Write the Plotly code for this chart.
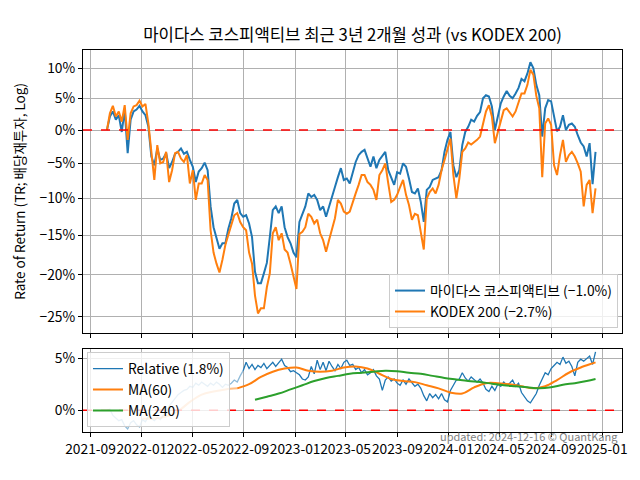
"""Midas KOSPI Active vs KODEX 200 - 3y2m performance chart."""

import pandas as pd
import plotly.graph_objects as go
from plotly.subplots import make_subplots

FONT = "Noto Sans CJK KR"
BLUE = "#1f77b4"
ORANGE = "#ff7f0e"
GREEN = "#2ca02c"
GRID = "#b0b0b0"

# weekly sampling points, 2021-10 .. 2024-12-16
dates = pd.date_range("2021-10-10", "2024-12-16", periods=166)

# cumulative return (%)
fund_ret = [
    0.0, 2.1, 2.9, 1.6, 2.3, -0.3, 3.1, -3.5, 1.6, 2.9,
    3.2, 3.8, 2.9, 2.3, 0.5, -4.0, -5.3, -2.8, -4.5, -4.3,
    -3.5, -5.7, -4.8, -3.6, -3.3, -2.8, -3.6, -3.3, -4.5, -5.5,
    -7.7, -6.2, -5.7, -4.9, -6.0, -11.1, -13.9, -15.2, -16.7, -16.0,
    -16.0, -14.1, -12.7, -10.7, -10.2, -12.0, -12.5, -12.3, -13.4, -15.2,
    -19.6, -21.0, -21.0, -19.8, -18.5, -15.2, -11.6, -11.1, -12.0, -11.1,
    -13.9, -15.2, -16.0, -17.2, -17.8, -13.2, -12.1, -11.1, -9.3, -9.8,
    -9.5, -10.2, -11.6, -11.1, -12.5, -11.1, -9.5, -8.4, -7.0, -5.7,
    -7.4, -7.2, -7.9, -6.2, -4.8, -3.8, -3.3, -3.0, -4.3, -5.5,
    -4.0, -5.7, -4.5, -3.8, -3.3, -6.0, -7.0, -8.1, -6.3, -6.5,
    -5.0, -5.5, -7.2, -9.1, -9.3, -8.6, -10.5, -13.2, -8.8, -8.4,
    -7.4, -7.2, -7.0, -6.0, -3.3, -1.5, -0.3, -5.3, -7.0, -6.0,
    -2.3, -0.3, 0.5, 1.6, 1.3, 2.2, 2.8, 5.0, 5.5, 5.3,
    3.7, 0.0, 2.3, 4.2, 5.3, 6.2, 5.4, 5.0, 5.8, 6.7,
    8.2, 7.8, 9.1, 11.0, 10.0, 7.2, 5.5, -1.0, 3.4, 4.7,
    4.5, 1.8, -0.2, 0.5, 2.3, 0.0, 0.8, 1.0, 0.5, -0.8,
    -1.9, -2.5, -4.0, -2.0, -8.0, -3.3,
]
kodex_ret = [
    0.0, 2.6, 3.8, 2.1, 2.9, 1.3, 3.9, -1.5, 2.6, 3.7,
    3.9, 4.6, 3.7, 4.1, 1.0, -3.5, -7.4, -2.3, -5.0, -4.8,
    -3.3, -7.7, -6.0, -3.5, -3.3, -4.3, -4.8, -3.8, -7.9, -6.0,
    -10.2, -7.9, -7.9, -6.7, -7.4, -14.3, -17.2, -18.6, -19.7, -18.1,
    -16.2, -14.9, -13.6, -12.3, -12.0, -13.2, -13.9, -14.3, -17.2, -18.6,
    -22.5, -24.6, -24.0, -24.0, -21.5, -19.8, -14.7, -13.9, -15.6, -14.7,
    -16.8, -17.2, -18.6, -20.2, -21.7, -14.8, -14.5, -13.9, -12.1, -12.5,
    -13.4, -12.9, -14.7, -15.6, -17.1, -15.6, -14.1, -12.7, -10.2, -10.7,
    -11.8, -12.1, -11.8, -10.7, -9.3, -8.1, -6.7, -6.7, -7.7, -8.1,
    -8.8, -10.2, -6.7, -6.0, -5.0, -7.9, -10.5, -10.2, -9.5, -8.4,
    -7.4, -9.5, -10.9, -12.9, -12.1, -12.3, -14.9, -16.8, -10.0, -9.1,
    -8.6, -9.3, -8.1, -6.0, -4.5, -2.8, -1.3, -6.7, -10.0, -7.2,
    -3.3, -2.8, -1.9, -2.2, -1.9, -1.5, -1.0, 1.0, 2.9, 3.9,
    2.1, -2.0, -0.3, 1.0, 3.1, 3.4, 2.8, 2.1, 2.9, 4.2,
    5.8, 5.8, 7.2, 9.7, 8.9, 5.4, 3.4, -7.0, 1.0, 1.8,
    0.8, -5.3, -6.7, -3.8, -1.5, -4.8, -3.8, -3.3, -4.0, -5.0,
    -6.2, -11.1, -8.1, -7.4, -12.0, -8.6,
]
# relative performance (%) in the lower panel
rel_ret = [
    0.0, 0.1, -0.5, -0.8, -1.0, -0.9, -1.5, -1.8, -1.2, -1.0,
    -1.4, -1.6, -0.9, -1.1, -0.6, -0.8, -1.0, -0.7, -0.9, -0.5,
    -0.2, 0.4, 0.8, 1.2, 1.5, 1.7, 1.9, 2.0, 2.3, 2.2,
    2.6, 2.4, 2.7, 2.5, 2.3, 2.6, 2.4, 2.7, 2.5, 2.2,
    2.5, 2.4, 2.6, 2.9, 2.7, 3.3, 3.8, 4.6, 4.0, 4.4,
    3.9, 4.3, 4.1, 4.5, 4.0, 4.3, 4.6, 4.2, 4.5, 4.9,
    4.3, 4.1, 3.7, 3.8, 3.6, 3.4, 3.0, 2.9, 3.2, 4.2,
    3.5, 4.8, 3.9, 4.6, 3.8, 4.7, 4.2, 3.8, 4.4, 4.0,
    4.6, 4.8, 4.3, 4.4, 3.9, 4.1, 3.6, 3.9, 3.4, 3.6,
    3.9, 3.3, 3.0, 1.9, 2.9, 3.2, 2.8, 3.0, 2.6, 2.4,
    2.9, 2.5, 3.0, 2.7, 2.3, 2.5, 2.1, 1.4, 0.9, 1.6,
    1.2, 1.5, 1.1, 1.6, 1.0, 0.8, 1.9, 2.4, 2.9, 3.0,
    3.6, 3.1, 2.8, 3.2, 2.9, 2.7, 3.0, 2.6, 2.0, 1.8,
    2.3, 1.9, 2.5, 2.3, 2.7, 2.4, 2.6, 2.9, 2.3, 2.6,
    1.7, 1.3, 0.9, 0.7, 1.2, 1.6, 2.4, 3.0, 3.6, 3.4,
    4.0, 4.3, 4.6, 4.4, 5.1, 4.5, 4.7, 4.2, 3.3, 4.6,
    4.9, 4.7, 5.0, 5.2, 4.4, 5.6,
]
# moving averages, read every 4 weeks
ma60_idx = list(range(12, 165, 4)) + [165]
ma60_val = [
    -0.8, -0.8, -0.6, -0.1, 0.8, 1.5, 1.8, 2.0, 2.1, 2.5,
    3.2, 3.7, 4.0, 4.1, 3.8, 3.7, 3.8, 4.1, 4.2, 4.0,
    3.5, 3.0, 2.8, 2.7, 2.4, 2.1, 1.7, 1.6, 2.2, 2.6,
    2.6, 2.5, 2.3, 2.1, 2.3, 2.9, 3.6, 4.1, 4.5, 4.6,
]
ma240_idx = list(range(50, 165, 4)) + [165]
ma240_val = [
    1.0, 1.3, 1.6, 2.0, 2.4, 2.8, 3.1, 3.3, 3.5, 3.6,
    3.7, 3.8, 3.75, 3.6, 3.5, 3.3, 3.1, 2.95, 2.8, 2.7,
    2.55, 2.4, 2.3, 2.2, 2.1, 2.2, 2.45, 2.6, 2.8, 3.0,
]

x_ticks = ["2021-09-01", "2022-01-01", "2022-05-01", "2022-09-01", "2023-01-01", "2023-05-01",
           "2023-09-01", "2024-01-01", "2024-05-01", "2024-09-01", "2025-01-01"]
x_labels = [t[:7] for t in x_ticks]
y_ticks = [10, 5, 0, -5, -10, -15, -20, -25]
y_labels = [f"{v}%".replace("-", "\u2212") for v in y_ticks]

LIGHT = 47  # lower-panel lines are faded before this point

fig = make_subplots(rows=2, cols=1, shared_xaxes=True)

fig.add_trace(go.Scatter(
    x=dates, y=[1 + v / 100 for v in fund_ret], mode="lines",
    name="마이다스 코스피액티브 (\u22121.0%)", line=dict(color=BLUE, width=2), legend="legend",
), row=1, col=1)
fig.add_trace(go.Scatter(
    x=dates, y=[1 + v / 100 for v in kodex_ret], mode="lines",
    name="KODEX 200 (\u22122.7%)", line=dict(color=ORANGE, width=2), legend="legend",
), row=1, col=1)

# lower panel
fig.add_trace(go.Scatter(
    x=dates[:LIGHT], y=rel_ret[:LIGHT], mode="lines", opacity=0.5, showlegend=False,
    line=dict(color=BLUE, width=1.3),
), row=2, col=1)
fig.add_trace(go.Scatter(
    x=dates[LIGHT - 1:], y=rel_ret[LIGHT - 1:], mode="lines", name="Relative (1.8%)",
    line=dict(color=BLUE, width=1.3), legend="legend2",
), row=2, col=1)

ma60_dates = [dates[i] for i in ma60_idx]
split = sum(1 for i in ma60_idx if i <= 44)
fig.add_trace(go.Scatter(
    x=ma60_dates[:split], y=ma60_val[:split], mode="lines", opacity=0.5, showlegend=False,
    line=dict(color=ORANGE, width=2, shape="spline"),
), row=2, col=1)
fig.add_trace(go.Scatter(
    x=ma60_dates[split - 1:], y=ma60_val[split - 1:], mode="lines", name="MA(60)",
    line=dict(color=ORANGE, width=2, shape="spline"), legend="legend2",
), row=2, col=1)
fig.add_trace(go.Scatter(
    x=[dates[i] for i in ma240_idx], y=ma240_val, mode="lines", name="MA(240)",
    line=dict(color=GREEN, width=2, shape="spline"), legend="legend2",
), row=2, col=1)

# zero reference lines
fig.add_hline(y=1, row=1, col=1, line=dict(color="red", dash="dash", width=1.3))
fig.add_hline(y=0, row=2, col=1, line=dict(color="red", dash="dash", width=1.3))

axis_style = dict(
    showline=True, linecolor="black", linewidth=1, mirror=True,
    ticks="outside", ticklen=4, tickcolor="black",
    showgrid=True, gridcolor=GRID, gridwidth=0.8, zeroline=False,
    tickfont=dict(family=FONT, size=13.8, color="black"),
)
fig.update_xaxes(**axis_style)
fig.update_yaxes(**axis_style)

fig.update_xaxes(range=["2021-08-14", "2025-02-17"], tickvals=x_ticks, ticktext=x_labels, tickangle=0)
fig.update_xaxes(showticklabels=False, row=1, col=1)

fig.update_layout(
    width=640, height=480, autosize=False,
    template="none",
    paper_bgcolor="white", plot_bgcolor="white",
    font=dict(family=FONT, size=13.5, color="black"),
    margin=dict(l=83, r=18, t=50, b=48),
    title=dict(
        text="마이다스 코스피액티브 최근 3년 2개월 성과 (vs KODEX 200)",
        x=0.5, xanchor="center", xref="paper", y=0.927, yanchor="middle",
        font=dict(family=FONT, size=16.7, color="black"),
    ),
    yaxis=dict(
        domain=[0.26, 1], type="log", range=[-0.1355, 0.0535],
        tickvals=[1 + v / 100 for v in y_ticks], ticktext=y_labels,
        title=dict(text="Rate of Return (TR; 배당재투자, Log)", standoff=10,
                   font=dict(family=FONT, size=13.5)),
    ),
    yaxis2=dict(
        domain=[0, 0.217], range=[-2.09, 5.87],
        tickvals=[0, 5], ticktext=["0%", "5%"],
    ),
    legend=dict(
        x=0.9926, y=0.272, xanchor="right", yanchor="bottom",
        bgcolor="rgba(255,255,255,0.8)", bordercolor="#cccccc", borderwidth=1,
        font=dict(family=FONT, size=13.8),
    ),
    legend2=dict(
        x=0.0074, y=0.209, xanchor="left", yanchor="top",
        bgcolor="rgba(255,255,255,0.8)", bordercolor="#cccccc", borderwidth=1,
        font=dict(family=FONT, size=13.8),
    ),
    annotations=[dict(
        text="updated: 2024-12-16 \u00a9 QuantKang", xref="paper", yref="paper",
        x=0.9963, y=-0.0105, xanchor="right", yanchor="middle", showarrow=False,
        font=dict(family=FONT, size=11, color="gray"),
    )],
)

# drop the default page margin so the figure sits at the window origin
fig.write_html(
    "out.html",
    config={"displayModeBar": False},
    post_script="document.body.style.margin='0';",
)
